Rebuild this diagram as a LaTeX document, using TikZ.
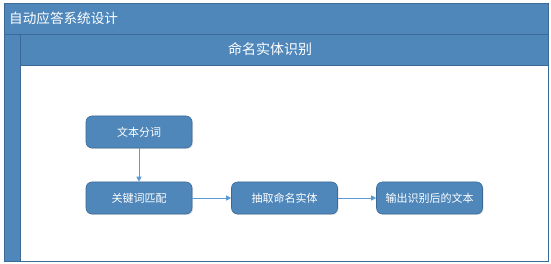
\documentclass[tikz,border=0pt]{standalone}
\usepackage{fontspec}
\newfontfamily\cjk{Noto Sans CJK SC}
\usetikzlibrary{arrows.meta,shadows}
\definecolor{band}{HTML}{4F87BB}
\definecolor{edge}{HTML}{3B6A98}
\definecolor{link}{HTML}{5B9BD5}
\tikzset{
  stepbox/.style={draw=edge, fill=band, rounded corners=6pt, line width=0.6pt,
    minimum width=106pt, minimum height=32pt, text=white, font=\cjk\fontsize{11}{13}\selectfont,
    drop shadow={shadow xshift=1pt, shadow yshift=-1pt, fill=black!20, opacity=0.6}},
  link/.style={draw=link, line width=0.8pt, -{Triangle[length=5pt,width=5pt]}}
}
\begin{document}
\begin{tikzpicture}[x=1pt,y=-1pt]
\useasboundingbox (0,0) rectangle (551,264);
% outer frame
\fill[band] (4,3) rectangle (548,261);
\fill[white] (20,65) rectangle (548,261);
\draw[edge, line width=0.8pt] (4,3) rectangle (548,261);
\draw[edge, line width=0.8pt] (4,34) -- (548,34);
\draw[edge, line width=0.8pt] (20,34) -- (20,261);
\draw[edge, line width=0.8pt] (20,65) -- (548,65);
\node[anchor=west, inner sep=0pt, text=white, font=\cjk\fontsize{13.6}{15}\selectfont] (title) at (9,18.5) {自动应答系统设计};
\node[text=white, font=\cjk\fontsize{14}{16}\selectfont] (lane) at (270,49.5) {命名实体识别};
\node[stepbox] (a) at (139,132) {文本分词};
\node[stepbox] (b) at (139,198) {关键词匹配};
\node[stepbox] (c) at (284.5,198) {抽取命名实体};
\node[stepbox] (d) at (429.5,198) {输出识别后的文本};
\draw[link] (a) -- (b);
\draw[link] (b) -- (c);
\draw[link] (c) -- (d);
\end{tikzpicture}
\end{document}
